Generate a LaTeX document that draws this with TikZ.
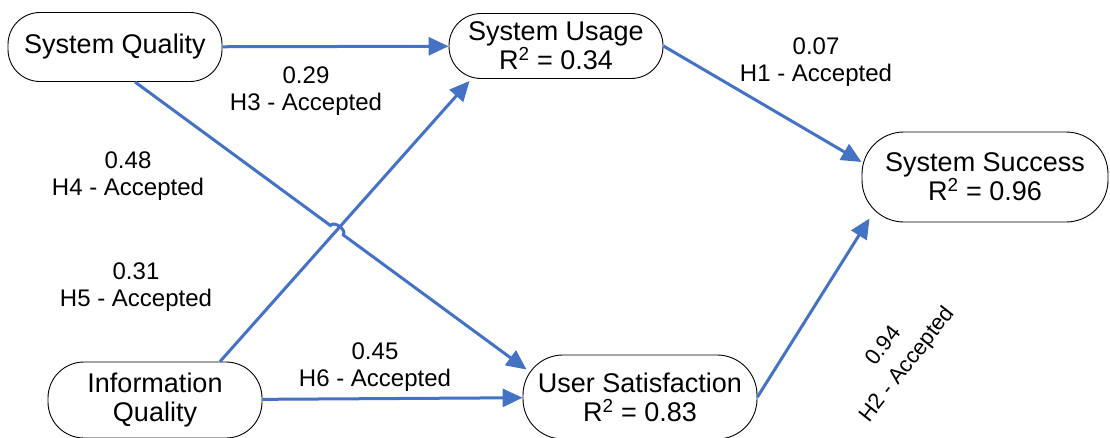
\documentclass[tikz,border=0pt]{standalone}
\usepackage{fontspec}
\setmainfont{Liberation Sans}
\usetikzlibrary{positioning,calc,arrows.meta,intersections}

\begin{document}
\begin{tikzpicture}[x=1pt,y=1pt]
    \tikzstyle{construct}=[draw,rectangle,rounded corners=32,align=center,inner sep=0,line width=0.9,font=\fontsize{27}{29}\selectfont]
    \tikzstyle{note}=[draw=none,align=center,inner sep=0,font=\fontsize{24}{27}\selectfont]
    \tikzstyle{link}=[draw,line width=3,color={rgb,255:red,68;green,114;blue,196},-{Triangle[length=20,width=18]}]
    {
        \useasboundingbox (0,0) rectangle (1110,-437);

        \node[construct,minimum width=214,minimum height=69] (sq) at (115,-47) {System Quality};
        \node[construct,minimum width=214,minimum height=65] (su) at (556,-46) {System Usage\\R\textsuperscript{2} = 0.34};
        \node[construct,minimum width=246,minimum height=90,rounded corners=42] (ss) at (985,-177) {System Success\\R\textsuperscript{2} = 0.96};
        \node[construct,minimum width=214,minimum height=76,rounded corners=36] (iq) at (155,-400) {Information\\Quality};
        \node[construct,minimum width=234,minimum height=84,rounded corners=40] (us) at (640,-397) {User Satisfaction\\R\textsuperscript{2} = 0.83};

        \coordinate (sqout) at ([xshift=20]sq.south);
        \coordinate (usin) at ([xshift=4,yshift=-15]us.north west);

        \draw[link] (sq) -- (su);
        \draw[link] (iq) -- (us);
        \draw[link] (su.east) -- ([yshift=15]ss.west);
        \draw[link] (us.east) -- ([xshift=8,yshift=4]ss.south west);
        \draw[link,name path=iqsu] ([xshift=65]iq.north) -- ([xshift=21,yshift=-2]su.south west);
        % line jumps over the other one
        \path[name path=squs] (sqout) -- (usin);
        \path[name intersections={of=iqsu and squs,by=hop}];
        \draw[link] (sqout) -- ($(hop)!8pt!(sqout)$) to[bend left=90] ($(hop)!8pt!(usin)$) -- (usin);

        \node[note] (h3) at (306,-91) {0.29\\H3 - Accepted};
        \node[note] (h1) at (816,-62) {0.07\\H1 - Accepted};
        \node[note] (h4) at (128,-176) {0.48\\H4 - Accepted};
        \node[note] (h5) at (136,-287) {0.31\\H5 - Accepted};
        \node[note] (h6) at (375,-367) {0.45\\H6 - Accepted};
        \node[note,rotate=52,font=\fontsize{22}{30}\selectfont] (h2) at (896,-356) {0.94\\H2 - Accepted};
    }
\end{tikzpicture}
\end{document}
